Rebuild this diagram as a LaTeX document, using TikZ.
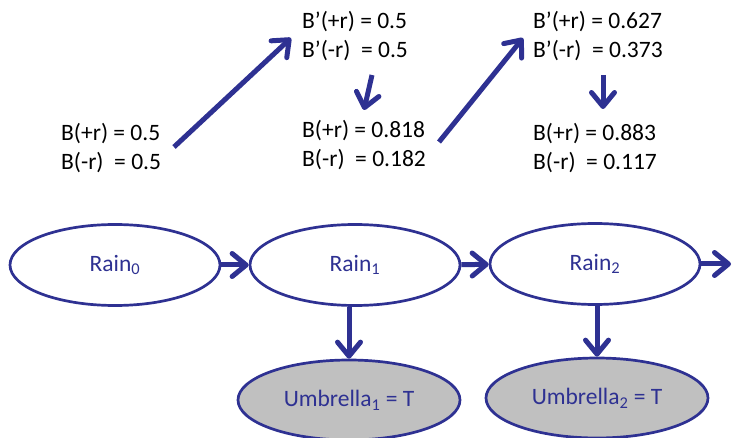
\documentclass[tikz,border=0pt]{standalone}
\usepackage{fontspec}
\setmainfont{Carlito}
\usetikzlibrary{shapes.geometric,arrows.meta}
\definecolor{netblue}{RGB}{46,49,146}
\definecolor{evgray}{RGB}{192,192,192}
\tikzset{
  statenode/.style={ellipse, draw=netblue, line width=2.7pt, fill=white,
    minimum width=210pt, minimum height=81pt, inner sep=0pt,
    text=netblue, font=\fontsize{23.5}{28}\selectfont},
  evnode/.style={statenode, fill=evgray, minimum width=222pt, minimum height=80pt},
  belief/.style={align=left, anchor=west, inner sep=0pt, text=black,
    font=\fontsize{23.5}{29}\selectfont},
  link/.style={draw=netblue, line width=5pt,
    -{Straight Barb[length=14pt,width=23pt,line cap=round,line join=round]}},
}
\begin{document}
\begin{tikzpicture}[x=1pt,y=-1pt]
\useasboundingbox (0,0) rectangle (733,438);

% hidden-state chain and evidence
\node[statenode] (r0) at (115,265) {Rain\textsubscript{0}};
\node[statenode] (r1) at (355,265) {Rain\textsubscript{1}};
\node[statenode] (r2) at (595,264) {Rain\textsubscript{2}};
\node[evnode] (u1) at (349,400) {Umbrella\textsubscript{1} = T};
\node[evnode] (u2) at (597,398) {Umbrella\textsubscript{2} = T};
\coordinate (next) at (731,264);

\draw[link] (r0) -- (r1);
\draw[link] (r1) -- (r2);
\draw[link] (r2.east) -- (next);
\draw[link] (u1.north |- r1.south) -- (u1.north);
\draw[link] (u2.north |- r2.south) -- (u2.north);

% belief updates
\node[belief] (b0)  at (61,148) {B(+r) = 0.5\\B(-r)\ \ = 0.5};
\node[belief] (bp1) at (302,36) {B’(+r) = 0.5\\B’(-r)\ \ = 0.5};
\node[belief] (b1)  at (302,145) {B(+r) = 0.818\\B(-r)\ \ = 0.182};
\node[belief] (bp2) at (533,36.5) {B’(+r) = 0.627\\B’(-r)\ \ = 0.373};
\node[belief] (b2)  at (533,148.5) {B(+r) = 0.883\\B(-r)\ \ = 0.117};

\coordinate (p0s) at (174,147);
\coordinate (p0e) at (291,38);
\coordinate (u1s) at (372,75);
\coordinate (u1e) at (364,110);
\coordinate (p1s) at (439,142);
\coordinate (p1e) at (523,38);
\coordinate (u2s) at (603,75);
\coordinate (u2e) at (603,109);

\draw[link] (p0s) -- (p0e);
\draw[link] (u1s) -- (u1e);
\draw[link] (p1s) -- (p1e);
\draw[link] (u2s) -- (u2e);
\end{tikzpicture}
\end{document}
